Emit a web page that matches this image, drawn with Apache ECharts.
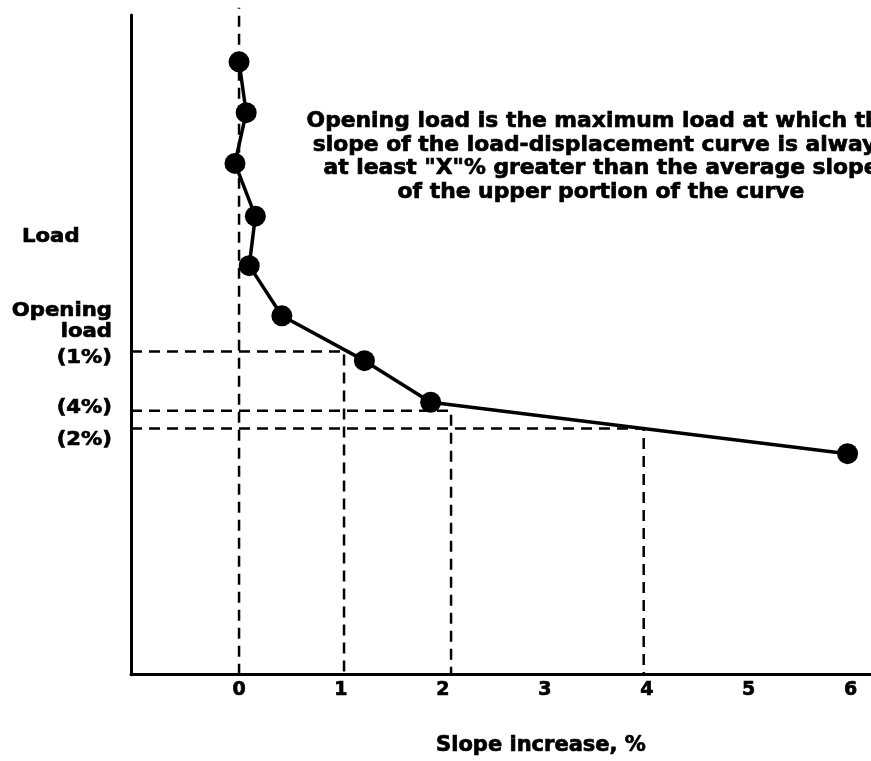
<!DOCTYPE html>
<html><head><meta charset="utf-8">
<script src="https://cdn.jsdelivr.net/npm/echarts@6/dist/echarts.min.js"></script>
<style>html,body{margin:0;padding:0;background:#fff}#c{width:871px;height:761px}</style>
</head><body><div id="c"></div>
<script>
// ---- data ----
const slopeIncrease = [0.00, 0.07, -0.04, 0.16, 0.10, 0.42, 1.23, 1.88, 5.97];
const loadLevel     = [92.9, 85.2, 77.5, 69.5, 62.0, 54.4, 47.6, 41.3, 33.5];
const xTickValues   = [0, 1, 2, 3, 4, 5, 6];
const openingLabels = ['(1%)', '(4%)', '(2%)'];
const openingLoad   = [49.0, 40.0, 37.3];
const openingSlope  = [1.03, 2.08, 3.97];
const zeroLineTop   = 101.1;
const xMin = -1.06, xMax = 6.2;
const annotationLines = [
  'Opening load is the maximum load at which the',
  'slope of the load-displacement curve is always',
  'at least "X"% greater than the average slope',
  'of the upper portion of the curve'
];

const FONT = '"DejaVu Sans", "Liberation Sans", sans-serif';
const dashStyle = { color: '#000', width: 2.5, type: [11, 7] };

const series = [];
// zero reference line
series.push({
  type: 'line', data: [[0, 0], [0, zeroLineTop]], symbol: 'none', clip: false,
  lineStyle: dashStyle, z: 1, silent: true
});
// opening-load construction lines
openingLoad.forEach((y, i) => {
  series.push({
    type: 'line', symbol: 'none', clip: false, z: 1, silent: true,
    data: [[xMin, y], [openingSlope[i], y], [openingSlope[i], 0]],
    lineStyle: dashStyle
  });
});
// main curve
series.push({
  type: 'line', z: 5,
  data: slopeIncrease.map((x, i) => [x, loadLevel[i]]),
  symbol: 'circle', symbolSize: 21,
  itemStyle: { color: '#000' },
  lineStyle: { color: '#000', width: 3.5 }
});

const txt = (text, x, y, align, size, sx, lh) => ({
  type: 'text', x: x, y: y, scaleX: sx,
  style: {
    text: text, fill: '#000', stroke: '#000', lineWidth: 0.7,
    fontFamily: FONT, fontWeight: 'bold', fontSize: size,
    textAlign: align, textVerticalAlign: 'middle', lineHeight: lh
  }
});

const chart = echarts.init(document.getElementById('c'), null, { renderer: 'canvas' });
chart.setOption({
  animation: false,
  backgroundColor: '#fff',
  grid: { left: 131, right: 0, top: 15, bottom: 83 },
  xAxis: {
    type: 'value', min: xMin, max: xMax,
    axisLine: { show: true, onZero: false, lineStyle: { color: '#000', width: 3 } },
    axisTick: { show: false },
    splitLine: { show: false },
    axisLabel: {
      customValues: xTickValues, margin: 6,
      color: '#000', fontFamily: FONT, fontWeight: 'bold', fontSize: 19,
      textBorderColor: '#000', textBorderWidth: 0.7
    },
    name: 'Slope increase, %', nameLocation: 'middle', nameGap: 60,
    nameTextStyle: {
      color: '#000', fontFamily: FONT, fontWeight: 'bold', fontSize: 21,
      textBorderColor: '#000', textBorderWidth: 0.7, padding: [0, 0, 0, 80]
    }
  },
  yAxis: {
    type: 'value', min: 0, max: 100,
    axisLine: { show: true, onZero: false, lineStyle: { color: '#000', width: 3 } },
    axisTick: { show: false }, axisLabel: { show: false }, splitLine: { show: false }
  },
  graphic: [
    txt(annotationLines.join('\n'), 601, 157, 'center', 21, 1.04, 23.5),
    txt('Load', 22, 237, 'left', 20, 1.06, 20),
    txt('Opening', 112, 311, 'right', 20, 1.06, 20),
    txt('load', 112, 332, 'right', 20, 1.06, 20),
    txt(openingLabels[0], 112, 358, 'right', 20, 1.06, 20),
    txt(openingLabels[1], 112, 408, 'right', 20, 1.06, 20),
    txt(openingLabels[2], 112, 440, 'right', 20, 1.06, 20)
  ],
  series: series
});
</script>
</body></html>
